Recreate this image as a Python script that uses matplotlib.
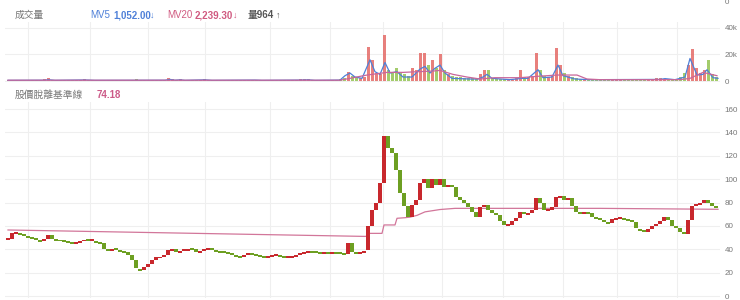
import matplotlib
matplotlib.use("Agg")
import matplotlib.pyplot as plt
import numpy as np

# closing prices, one bar per step (oldest -> newest)
close = [
    48.8, 54, 54, 53, 52, 50.5, 49.6, 48.5, 47, 49,
    52, 49, 48, 47.5, 47, 46.5, 45.3, 46, 47.5, 48.8,
    48, 48, 46.5, 45, 40, 39.4, 40.5, 40, 38.5, 37.6,
    35, 31, 24, 22.5, 24.8, 27, 31, 33, 33.4, 35,
    39, 40.5, 38, 39.4, 39.4, 40.5, 40, 37.6, 39, 40,
    41.5, 40, 38.5, 37.6, 37.5, 36.8, 36, 34.5, 33.4, 35,
    36.8, 36, 35, 34, 33.4, 34, 35, 35, 34, 33.4,
    33.4, 34.5, 36, 37, 38, 38.5, 38, 37.5, 36.8, 37.5,
    37, 37.6, 37, 36.5, 36, 45, 38, 37, 38, 39,
    60, 74, 80, 97, 137, 127, 122, 108, 88, 77,
    68, 78, 82, 96.7, 100, 92.4, 100, 95, 100, 93,
    95, 93, 84.7, 82, 79.6, 76, 72, 67.6, 76, 78,
    74, 71, 69, 64, 60.8, 61, 64, 67, 72, 70,
    71, 73.6, 84, 80, 73.6, 74, 76, 85, 86, 82,
    84, 77, 72, 71, 72, 71, 68, 66.7, 65, 63,
    62.5, 66, 67, 67.6, 66, 65, 63, 58, 56.5, 54.8,
    57, 60, 62, 64, 67.6, 65, 60, 58, 55, 53,
    65, 77, 79, 80, 82, 80, 77, 76.5,
]

# volume in thousands
volume = [
    0.6, 0.5, 0.6, 0.7, 0.5, 0.6, 0.5, 0.6, 0.8, 1.2,
    2.0, 0.9, 0.6, 0.5, 0.6, 0.7, 0.5, 0.6, 0.9, 1.5,
    0.8, 0.6, 0.5, 0.6, 0.9, 0.7, 0.6, 0.5, 0.6, 0.7,
    0.8, 1.0, 1.2, 0.8, 0.7, 0.6, 0.6, 0.5, 0.7, 1.0,
    2.0, 1.2, 0.8, 1.5, 0.8, 0.6, 0.6, 0.7, 0.9, 1.5,
    0.9, 0.6, 0.5, 0.5, 0.6, 0.5, 0.6, 0.7, 0.6, 0.5,
    0.6, 0.8, 1.0, 0.7, 0.5, 0.5, 0.6, 0.5, 0.5, 0.6,
    0.7, 0.8, 1.0, 1.5, 1.4, 1.5, 0.9, 0.6, 0.5, 0.6,
    0.7, 0.6, 0.8, 1.2, 2.0, 7.0, 4.0, 3.0, 2.0, 3.0,
    26, 16, 6, 5, 35, 8, 6, 10, 7, 5,
    4, 10, 8, 21, 21, 12, 16, 10, 20, 8,
    5, 4, 3, 3, 2.5, 2, 2, 1.5, 5, 8.5,
    8, 2, 1.5, 1.5, 1.2, 1, 1, 2, 8, 3,
    3, 4, 21, 8, 4, 3, 4, 25, 12, 6,
    4, 3, 2, 1.5, 1.2, 1.2, 1, 1, 1.2, 1,
    1, 1.2, 1, 1, 1.2, 1, 1, 0.9, 1, 1,
    1.2, 1.5, 2, 2, 1.5, 1.2, 1, 1.5, 3, 6,
    12, 24.5, 10, 6, 8, 15.5, 5, 3,
]

# moving-average lines (bar index, thousands)
mv5_idx = [0, 9.25, 10, 11.75, 19.25, 21.75, 39.25, 40.5, 41.75, 43, 44.25, 49.25, 51,
           61.75, 63.5, 73, 75, 76.75, 83, 84.25, 85.5, 86.75, 88.5, 90.5, 91.75, 93,
           94.25, 95.5, 97.25, 98.75, 101, 103, 104.25, 105.5, 106.75, 108, 109.25, 111,
           115.5, 117.5, 118.75, 119.75, 121, 125.5, 128.5, 130, 132.5, 133.75, 136,
           137.5, 138.75, 141.75, 145.5, 163, 164.25, 166.75, 169.25, 170.5, 172.25,
           173.75, 174.75, 176.25, 177.5]
mv5_val = [0.5, 0.6, 1.0, 0.5, 0.8, 0.5, 0.6, 1.2, 0.6, 0.9, 0.5, 0.9, 0.5,
           0.7, 0.5, 0.7, 0.9, 0.5, 0.7, 4, 6, 3, 2, 16, 7, 5,
           14, 6, 7, 3, 3, 9, 11, 6, 9.6, 12, 6, 2,
           1.5, 1.5, 3, 5, 2, 1, 2, 2, 8.5, 2.5, 3,
           12, 4, 1.5, 1, 1.2, 1.8, 1, 3, 17, 4.5,
           5, 8.5, 2.5, 2]

mv20_idx = [0, 83, 85.5, 88, 89.75, 94.75, 98.75, 102.25, 106.25, 108, 111.25, 114.75,
            118, 121.75, 128, 132.25, 137.25, 142.25, 144.75, 148, 168, 170.5, 173.75, 177.25]
mv20_val = [0.6, 0.6, 2, 3.5, 4.5, 6.5, 6.5, 7, 7.5, 8, 5, 3,
            1.5, 2.5, 2.5, 3.5, 4.5, 4.5, 1.5, 1, 1, 2, 6.5, 4]

# price baseline line
base_idx = [0, 89.25, 89.75, 90, 93.5, 94, 96.75, 97.25, 99.25, 100.5, 102.25, 104.25,
            108, 111.75, 148, 177.5]
base_val = [56.5, 51, 51.2, 53.6, 53.6, 60.8, 60.8, 66.5, 67, 67.5, 69, 72,
            74, 75, 75, 74.2]

# vertical grid positions (period boundaries, bar index)
grid_idx = [5, 20.5, 35, 49.25, 65.5, 80.5, 93.75, 108.5, 123.75, 138.75, 152.25, 167.25]

vol_ticks = [0, 20, 40]
vol_labels = ["0", "20k", "40k"]
price_ticks = [0, 20, 40, 60, 80, 100, 120, 140, 160]

UP = "#c8282d"
DOWN = "#6d9f22"
GRID = "#efefef"
LABEL = "#777777"
FONT = ["Liberation Sans", "Noto Sans CJK TC", "DejaVu Sans"]

plt.rcParams["font.family"] = FONT

W, H = 740, 300
fig = plt.figure(figsize=(W / 100, H / 100), dpi=100)


def px_axes(left, top, right, bottom):
    return fig.add_axes([left / W, 1 - bottom / H, (right - left) / W, (bottom - top) / H])


n = len(close)
x = np.arange(n)
c = np.array(close)
o = np.concatenate([[c[0]], c[:-1]])
up = c >= o
colors = np.where(up, UP, DOWN)
vcolors = np.where(up, "#e46a66", "#93c452")

xlim = (-0.75, 178)


def style(ax, ticks, labels, ylim):
    ax.set_xlim(*xlim)
    ax.set_ylim(*ylim)
    for s in ax.spines.values():
        s.set_visible(False)
    ax.set_xticks([])
    ax.yaxis.tick_right()
    ax.set_yticks(ticks)
    ax.set_yticklabels(labels)
    ax.tick_params(axis="y", length=0, pad=3.5, labelsize=5.8, labelcolor=LABEL)
    for t in ticks:
        ax.axhline(t, color=GRID, lw=0.8, zorder=0)
    for g in grid_idx:
        ax.axvline(g, color=GRID, lw=0.8, zorder=0)


# thin strip of the panel above (cut off)
top = px_axes(8, -20, 720, 3)
top.set_xlim(*xlim)
top.set_ylim(-20, 0)
top.axis("off")
top.axhline(0, color=GRID, lw=0.8)
fig.text(725 / W, 1 - 2 / H, "0", fontsize=5.8, color=LABEL, va="center")

# volume panel
axv = px_axes(5, 22, 720, 82)
style(axv, vol_ticks, vol_labels, (-0.75, 44.5))
axv.bar(x, volume, width=0.75, color=vcolors, alpha=0.85, zorder=2)
axv.plot(mv5_idx, mv5_val, color="#4f80d8", lw=0.9, zorder=3)
axv.plot(mv20_idx, mv20_val, color="#c9679a", lw=0.9, zorder=3)

# price panel
axp = px_axes(5, 102, 720, 298)
style(axp, price_ticks, [str(t) for t in price_ticks], (-1.7, 166))
axp.plot(base_idx, base_val, color="#d2769a", lw=0.9, zorder=2)
body_lo = np.minimum(o, c)
small = np.abs(c - o) < 1.6
body_h = np.where(small, 1.6, np.abs(c - o))
axp.bar(x, body_h, bottom=body_lo - np.where(small, 0.8, 0), width=0.78,
        color=colors, zorder=3)


# headers
def txt(px, py, s, color, bold=False, size=7):
    fig.text(px / W, 1 - py / H, s, fontsize=size, color=color, va="center",
             fontweight="bold" if bold else "normal")


txt(15, 15, "成交量", LABEL)
txt(90, 15, "MV5", "#4f80d8")
txt(113, 15, "1,052.00", "#4f80d8", bold=True)
txt(150, 15, "↓", "#4f80d8", size=6.5)
txt(167, 15, "MV20", "#d05a80")
txt(195, 15, "2,239.30", "#d05a80", bold=True)
txt(233, 15, "↓", "#d05a80", size=6.5)
txt(248, 15, "量964", "#555555", bold=True)
txt(276, 15, "↑", "#555555", size=6.5)

txt(15, 95, "股價脫離基準線", LABEL)
txt(97, 95, "74.18", "#cc5a88", bold=True)

fig.savefig("out.png", dpi=100)
